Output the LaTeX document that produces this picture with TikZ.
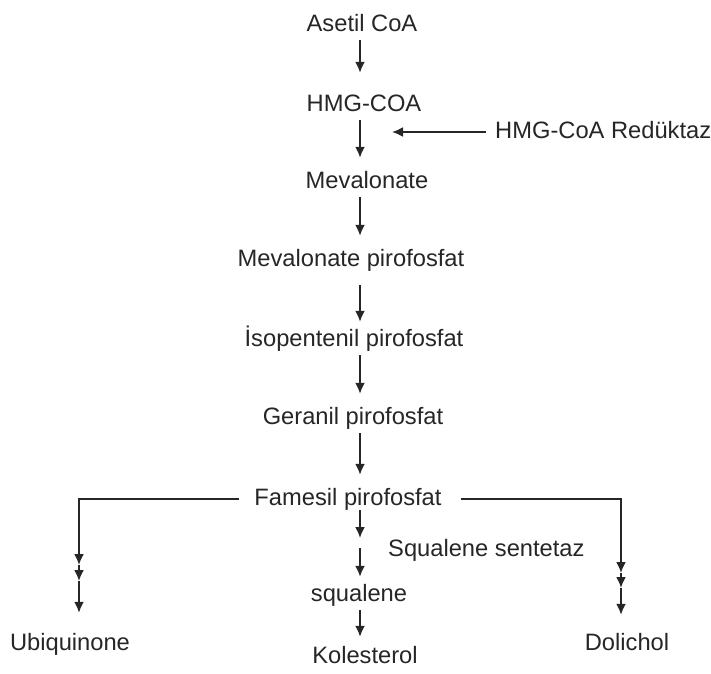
\documentclass[tikz,border=0pt]{standalone}
\usepackage{fontspec}
\setmainfont{Liberation Sans}
\usetikzlibrary{arrows.meta}

\begin{document}
\begin{tikzpicture}[x=1pt, y=-1pt, every node/.style={inner sep=0pt, text height=17pt, text depth=5pt, anchor=base, font=\fontsize{23.7}{28}\selectfont, text=black!85},
  arr/.style={-{Latex[length=11pt, width=10pt]}, line width=1.9pt, draw=black!85, shorten <=4pt, shorten >=13pt},
  link/.style={arr, shorten <=0pt, shorten >=0pt}]
\useasboundingbox (0,0) rectangle (711,673);
% Nodes
\node (asetil) at (362,31) {Asetil CoA};
\node (hmg) at (364,111) {HMG-COA};
\node (reduktaz) [anchor=base west] at (495,138) {HMG-CoA Redüktaz};
\node (mevalonate) at (367,188) {Mevalonate};
\node (mevpp) at (351,266) {Mevalonate pirofosfat};
\node (ipp) at (354,346) {İsopentenil pirofosfat};
\node (gpp) at (353,424) {Geranil pirofosfat};
\node (fpp) at (348,505) {Famesil pirofosfat};
\node (sentetaz) [anchor=base west] at (388,556) {Squalene sentetaz};
\node (squalene) at (359,601) {squalene};
\node (kolesterol) at (365,663) {Kolesterol};
\node (ubiquinone) at (70,650) {Ubiquinone};
\node (dolichol) at (627,650) {Dolichol};
% Points on the lines
\coordinate (axis) at (360,0);
\coordinate (enzTip) at (392,132);
\coordinate (sqA) at (360,538);
\coordinate (sqB) at (360,548);
\coordinate (ubqA) at (79,565);
\coordinate (ubqB) at (79,581);
\coordinate (dolA) at (621,573);
\coordinate (dolB) at (621,588);
% Arrows
\draw[arr, shorten >=21pt] (asetil.south -| axis) -- (hmg.north -| axis);
\draw[arr] (hmg.south -| axis) -- (mevalonate.north -| axis);
\draw[arr, shorten <=9pt, shorten >=0pt] (reduktaz.west) -- (enzTip);
\draw[arr] (mevalonate.south -| axis) -- (mevpp.north -| axis);
\draw[arr, shorten <=14pt, shorten >=7pt] (mevpp.south -| axis) -- (ipp.north -| axis);
\draw[arr] (ipp.south -| axis) -- (gpp.north -| axis);
\draw[arr] (gpp.south -| axis) -- (fpp.north -| axis);
\draw[link] (fpp.south -| axis) -- (sqA);
\draw[arr, shorten <=0pt, shorten >=7pt] (sqB) -- (squalene.north -| axis);
\draw[arr, shorten >=9pt] (squalene.south -| axis) -- (kolesterol.north -| axis);
% Side branches
\draw[link, shorten <=15pt] (fpp.west) -| (ubqA);
\draw[link] (ubqA) -- (ubqB);
\draw[arr, shorten <=0pt, shorten >=20pt] (ubqB) -- (ubqB |- ubiquinone.north);
\draw[link, shorten <=19pt] (fpp.east) -| (dolA);
\draw[link] (dolA) -- (dolB);
\draw[arr, shorten <=0pt, shorten >=18pt] (dolB) -- (dolB |- dolichol.north);
\end{tikzpicture}
\end{document}
